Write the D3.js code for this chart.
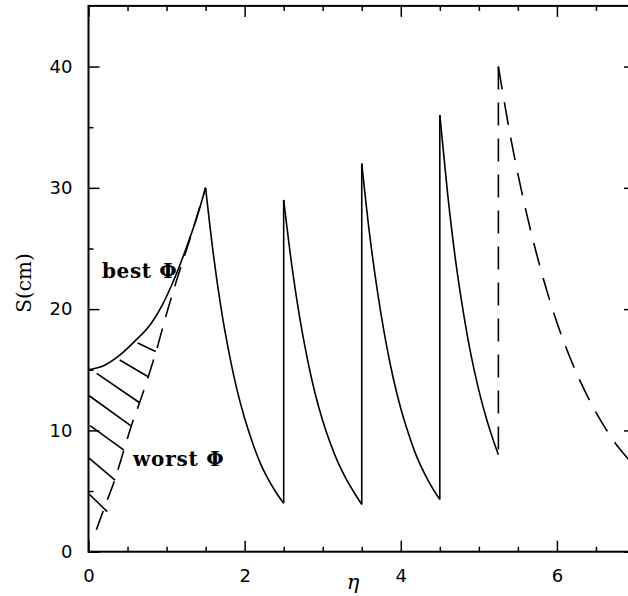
<!DOCTYPE html>
<html>
<head>
<meta charset="utf-8">
<script src="https://cdn.jsdelivr.net/npm/d3@7"></script>
<style>
  body { margin: 0; background: #fff; }
  svg { display: block; overflow: hidden; }
  .tick text { font-family: "DejaVu Sans", sans-serif; font-size: 18px; fill: #000; }
</style>
</head>
<body>
<svg id="chart"></svg>
<script>
var width = 628;
var height = 596;

// tick values
var xMajor = [0, 2, 4, 6];
var xMinor = [0.5, 1, 1.5, 2.5, 3, 3.5, 4.5, 5, 5.5, 6.5];
var yMajor = [0, 10, 20, 30, 40];
var yMinor = [5, 15, 25, 35];

// best phi curve (eta, S)
var bestCurve = [[0, 15], [0.2, 15.35], [0.4, 16.2], [0.6, 17.4], [0.8, 18.8], [0.95, 20.4], [1.1, 22.5], [1.25, 25.0], [1.38, 27.4], [1.5, 30]];
// worst phi curve (dashed)
var worstCurve = [[0.1, 1.8], [0.22, 3.9], [0.34, 6.0], [0.45, 8.3], [0.55, 10.4], [0.66, 12.4], [0.77, 14.5], [0.87, 16.6], [0.99, 19.4], [1.13, 22.4], [1.29, 25.6], [1.5, 30]];

// decays after each jump
var decay1 = [[1.5, 30], [1.6, 24.5], [1.7, 20.0], [1.8, 16.4], [1.9, 13.4], [2.0, 11.0], [2.1, 9.0], [2.2, 7.3], [2.3, 6.0], [2.4, 4.9], [2.5, 4.0]];
var decay2 = [[2.5, 29], [2.6, 23.8], [2.7, 19.5], [2.8, 16.0], [2.9, 13.1], [3.0, 10.8], [3.1, 8.9], [3.2, 7.3], [3.3, 6.0], [3.4, 4.9], [3.5, 3.9]];
var decay3 = [[3.5, 32], [3.6, 26.2], [3.7, 21.5], [3.8, 17.6], [3.9, 14.4], [4.0, 11.8], [4.1, 9.7], [4.2, 7.9], [4.3, 6.5], [4.4, 5.3], [4.5, 4.3]];
var decay4 = [[4.5, 36], [4.6, 29.5], [4.7, 24.1], [4.8, 19.8], [4.9, 16.2], [5.0, 13.3], [5.1, 10.9], [5.2, 8.9], [5.25, 8.0]];
var decay5 = [[5.25, 40], [5.4, 34.4], [5.6, 28.2], [5.8, 23.1], [6.0, 18.9], [6.2, 15.5], [6.4, 12.7], [6.6, 10.4], [6.8, 8.5], [6.92, 7.6]];

// hatch lines between the two phi curves
var hatchStart = [[0, 4.8], [0, 7.75], [0.02, 10.4], [0, 12.9], [0.105, 14.7], [0.40, 15.8], [0.63, 17.2]];
var hatchEnd = [[0.24, 3.3], [0.34, 5.9], [0.45, 8.4], [0.54, 10.4], [0.65, 12.3], [0.77, 14.4], [0.86, 16.5]];

var xScale = d3.scaleLinear().domain([0, 7]).range([88.5, 635]);
var yScale = d3.scaleLinear().domain([0, 45]).range([551.7, 5.9]);

var svg = d3.select("#chart")
    .attr("width", width)
    .attr("height", height);

var line = d3.line()
    .x(d => xScale(d[0]))
    .y(d => yScale(d[1]))
    .curve(d3.curveMonotoneX);

var straight = d3.line()
    .x(d => xScale(d[0]))
    .y(d => yScale(d[1]));

// axes, ticks pointing inward
function drawAxis(axisFn, scale, tr, major, minor, labels) {
    svg.append("g")
        .attr("transform", tr)
        .call(axisFn(scale).tickValues(minor).tickSize(-5).tickSizeOuter(0).tickFormat(""))
        .call(g => g.select(".domain").remove())
        .selectAll("line").attr("stroke", "#000").attr("stroke-width", 1.5);
    var g = svg.append("g")
        .attr("transform", tr)
        .call(axisFn(scale).tickValues(major).tickSize(-11).tickSizeOuter(0)
            .tickPadding(axisFn === d3.axisBottom ? 18 : 16)
            .tickFormat(labels ? d3.format("d") : ""));
    g.select(".domain").remove();
    g.selectAll("line").attr("stroke", "#000").attr("stroke-width", 1.5);
}

drawAxis(d3.axisBottom, xScale, "translate(0," + yScale(0) + ")", xMajor, xMinor, true);
drawAxis(d3.axisTop, xScale, "translate(0," + yScale(45) + ")", xMajor, xMinor, false);
drawAxis(d3.axisLeft, yScale, "translate(" + xScale(0) + ",0)", yMajor, yMinor, true);
drawAxis(d3.axisRight, yScale, "translate(" + xScale(7) + ",0)", yMajor, yMinor, false);

svg.append("rect")
    .attr("x", xScale(0))
    .attr("y", yScale(45))
    .attr("width", xScale(7) - xScale(0))
    .attr("height", yScale(0) - yScale(45))
    .attr("fill", "none")
    .attr("stroke", "#000")
    .attr("stroke-width", 2);

// solid curves
var solidParts = [bestCurve, decay1, decay2, decay3, decay4];
solidParts.forEach(p => {
    svg.append("path").attr("d", line(p))
        .attr("fill", "none").attr("stroke", "#000").attr("stroke-width", 1.6);
});
// vertical jumps
[[decay1, decay2], [decay2, decay3], [decay3, decay4]].forEach(pair => {
    var a = pair[0][pair[0].length - 1], b = pair[1][0];
    svg.append("path").attr("d", straight([a, b]))
        .attr("fill", "none").attr("stroke", "#000").attr("stroke-width", 1.6);
});

// dashed curves
svg.append("path").attr("d", line(worstCurve))
    .attr("fill", "none").attr("stroke", "#000").attr("stroke-width", 1.6)
    .attr("stroke-dasharray", "20,12");
svg.append("path").attr("d", straight([decay5[0], decay4[decay4.length - 1]]))
    .attr("fill", "none").attr("stroke", "#000").attr("stroke-width", 1.6)
    .attr("stroke-dasharray", "23,13");
svg.append("path").attr("d", line(decay5))
    .attr("fill", "none").attr("stroke", "#000").attr("stroke-width", 1.6)
    .attr("stroke-dasharray", "23,13");

// hatching
svg.selectAll(".hatch")
    .data(hatchStart)
    .enter()
    .append("line")
    .attr("class", "hatch")
    .attr("x1", d => xScale(d[0]))
    .attr("y1", d => yScale(d[1]))
    .attr("x2", (d, i) => xScale(hatchEnd[i][0]))
    .attr("y2", (d, i) => yScale(hatchEnd[i][1]))
    .attr("stroke", "#000")
    .attr("stroke-width", 1.6);

// labels
var serif = "'DejaVu Serif', serif";
svg.append("text")
    .attr("x", 102).attr("y", 278)
    .attr("font-family", serif).attr("font-size", 20).attr("font-weight", "bold")
    .attr("letter-spacing", 0.6)
    .text("best Φ");
svg.append("text")
    .attr("x", 133).attr("y", 466)
    .attr("font-family", serif).attr("font-size", 20).attr("font-weight", "bold")
    .attr("letter-spacing", 0.8)
    .text("worst Φ");

svg.append("text")
    .attr("transform", "translate(31,283) rotate(-90)")
    .attr("text-anchor", "middle")
    .attr("font-family", serif).attr("font-size", 20)
    .text("S(cm)");

svg.append("text")
    .attr("x", 353).attr("y", 589)
    .attr("text-anchor", "middle")
    .attr("font-family", serif).attr("font-size", 21).attr("font-style", "italic")
    .text("η");
</script>
</body>
</html>
